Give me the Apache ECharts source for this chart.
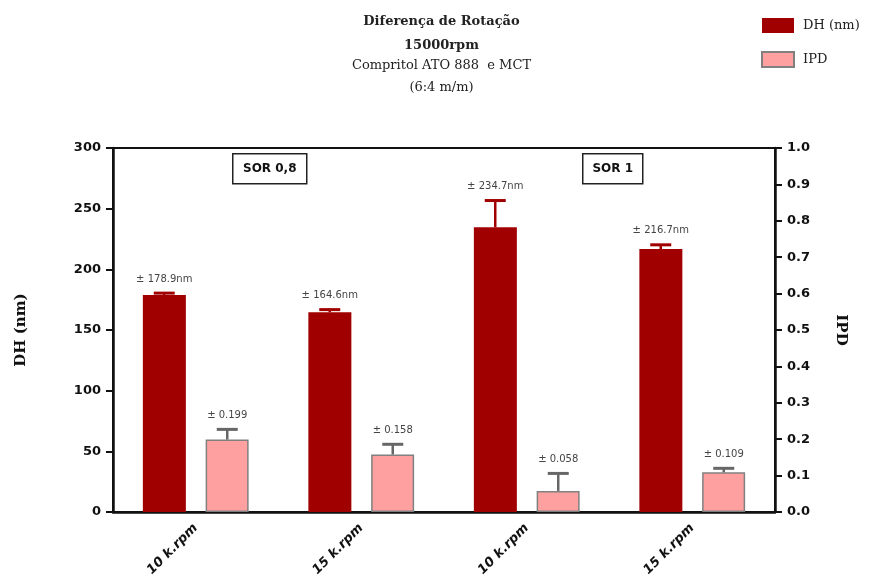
<!DOCTYPE html>
<html>
<head>
<meta charset="utf-8">
<script src="https://cdn.jsdelivr.net/npm/echarts@6/dist/echarts.min.js"></script>
<style>
  html, body { margin: 0; padding: 0; background: #fff; }
  #chart { width: 883px; height: 583px; }
</style>
</head>
<body>
<div id="chart"></div>
<script>
var categories = ['10 k.rpm', '15 k.rpm', '10 k.rpm', '15 k.rpm'];
var dhValues = [178.9, 164.6, 234.7, 216.7];
var dhErrors = [1.5, 2.2, 22, 3.5];
var ipdValues = [0.199, 0.158, 0.058, 0.109];
var ipdErrors = [0.028, 0.028, 0.048, 0.011];
var leftTicks = [0, 50, 100, 150, 200, 250, 300];
var rightTicks = [0, 0.1, 0.2, 0.3, 0.4, 0.5, 0.6, 0.7, 0.8, 0.9, 1.0];
var panels = ['SOR 0,8', 'SOR 1'];

var BAR_W = 43;
var BAR_OFF = 31.5;
var SANS = 'DejaVu Sans, Arial';
var SERIF = 'DejaVu Serif, Liberation Serif';

function errorSeries(name, values, errors, axisIndex, offset, color, fmt) {
    return {
        name: name,
        type: 'custom',
        yAxisIndex: axisIndex,
        z: 5,
        data: values.map(function (v, i) { return [i, v, v + errors[i]]; }),
        renderItem: function (params, api) {
            var base = api.coord([api.value(0), api.value(1)]);
            var top = api.coord([api.value(0), api.value(2)]);
            var x = base[0] + offset;
            var half = 10.5;
            return {
                type: 'group',
                children: [
                    { type: 'line', shape: { x1: x, y1: base[1], x2: x, y2: top[1] },
                      style: { stroke: color, lineWidth: 2.5 } },
                    { type: 'line', shape: { x1: x - half, y1: top[1], x2: x + half, y2: top[1] },
                      style: { stroke: color, lineWidth: 3 } },
                    { type: 'text', x: x, y: top[1] - 14,
                      style: { text: fmt(api.value(1)), textAlign: 'center', textVerticalAlign: 'middle',
                               fill: '#444', fontSize: 10, fontFamily: SANS } }
                ]
            };
        }
    };
}

var chart = echarts.init(document.getElementById('chart'));
chart.setOption({
    animation: false,
    backgroundColor: '#fff',
    title: [
        { text: 'Diferença de Rotação', left: 'center', top: 10,
          textStyle: { fontFamily: SERIF, fontWeight: 'bold', fontSize: 13, color: '#222' } },
        { text: '15000rpm', left: 'center', top: 34,
          textStyle: { fontFamily: SERIF, fontWeight: 'bold', fontSize: 13, color: '#222' } },
        { text: 'Compritol ATO 888  e MCT', left: 'center', top: 54,
          textStyle: { fontFamily: SERIF, fontWeight: 'normal', fontSize: 13, color: '#222' } },
        { text: '(6:4 m/m)', left: 'center', top: 76,
          textStyle: { fontFamily: SERIF, fontWeight: 'normal', fontSize: 13, color: '#222' } }
    ],
    legend: {
        orient: 'vertical',
        left: 761,
        top: 18,
        padding: 0,
        icon: 'rect',
        itemWidth: 32,
        itemHeight: 15,
        itemGap: 18,
        data: ['DH (nm)', 'IPD'],
        textStyle: { fontFamily: SERIF, fontSize: 13, color: '#222', padding: [0, 0, 0, 4] }
    },
    grid: {
        left: 113, right: 108, top: 148, bottom: 71,
        show: true, borderColor: '#111', borderWidth: 2
    },
    xAxis: {
        type: 'category',
        data: categories,
        axisLine: { lineStyle: { color: '#111', width: 2.5 } },
        axisTick: { alignWithLabel: true, length: 7, lineStyle: { color: '#111', width: 2 } },
        axisLabel: {
            rotate: 45, margin: 14, color: '#111',
            fontFamily: SANS, fontWeight: 'bold', fontStyle: 'italic', fontSize: 13
        },
        splitLine: {
            show: true,
            interval: function (index) { return index === 2; },
            lineStyle: { color: '#111', width: 2 }
        }
    },
    yAxis: [
        {
            type: 'value', min: 0, max: 300, interval: 50,
            name: 'DH (nm)', nameLocation: 'middle', nameGap: 84,
            nameTextStyle: { fontFamily: SERIF, fontWeight: 'bold', fontSize: 15, color: '#111' },
            axisLine: { show: true, lineStyle: { color: '#111', width: 2.5 } },
            axisTick: { show: true, length: 7, lineStyle: { color: '#111', width: 2 } },
            axisLabel: {
                margin: 12, color: '#111', fontFamily: SANS, fontWeight: 'bold', fontSize: 13,
                formatter: function (v) { return leftTicks.indexOf(v) >= 0 ? String(v) : ''; }
            },
            splitLine: { show: false }
        },
        {
            type: 'value', min: 0, max: 1, interval: 0.1, position: 'right',
            name: 'IPD', nameLocation: 'middle', nameGap: 58, nameRotate: -90,
            nameTextStyle: { fontFamily: SERIF, fontWeight: 'bold', fontSize: 15, color: '#111' },
            axisLine: { show: true, lineStyle: { color: '#111', width: 2.5 } },
            axisTick: { show: true, length: 7, lineStyle: { color: '#111', width: 2 } },
            axisLabel: {
                margin: 12, color: '#111', fontFamily: SANS, fontWeight: 'bold', fontSize: 13,
                formatter: function (v) {
                    var r = Math.round(v * 10) / 10;
                    return rightTicks.indexOf(r) >= 0 ? r.toFixed(1) : '';
                }
            },
            splitLine: { show: false }
        }
    ],
    graphic: [
        { type: 'group', left: 232, top: 153, children: [
            { type: 'rect', shape: { x: 0, y: 0, width: 74, height: 30 },
              style: { fill: '#fff', stroke: '#222', lineWidth: 1.5 } },
            { type: 'text', x: 37, y: 15,
              style: { text: panels[0], textAlign: 'center', textVerticalAlign: 'middle', fill: '#111',
                       fontFamily: SANS, fontWeight: 'bold', fontSize: 12 } }
        ] },
        { type: 'group', left: 582, top: 153, children: [
            { type: 'rect', shape: { x: 0, y: 0, width: 60, height: 30 },
              style: { fill: '#fff', stroke: '#222', lineWidth: 1.5 } },
            { type: 'text', x: 30, y: 15,
              style: { text: panels[1], textAlign: 'center', textVerticalAlign: 'middle', fill: '#111',
                       fontFamily: SANS, fontWeight: 'bold', fontSize: 12 } }
        ] }
    ],
    series: [
        {
            name: 'DH (nm)', type: 'bar', yAxisIndex: 0,
            barWidth: BAR_W, barGap: '46%',
            itemStyle: { color: '#a00000' },
            data: dhValues
        },
        {
            name: 'IPD', type: 'bar', yAxisIndex: 1,
            barWidth: BAR_W,
            itemStyle: { color: '#ffa0a0', borderColor: '#808080', borderWidth: 1.5 },
            data: ipdValues
        },
        errorSeries('DH err', dhValues, dhErrors, 0, -BAR_OFF, '#a00000',
            function (v) { return '± ' + v.toFixed(1) + 'nm'; }),
        errorSeries('IPD err', ipdValues, ipdErrors, 1, BAR_OFF, '#666666',
            function (v) { return '± ' + v.toFixed(3); })
    ]
});
</script>
</body>
</html>
